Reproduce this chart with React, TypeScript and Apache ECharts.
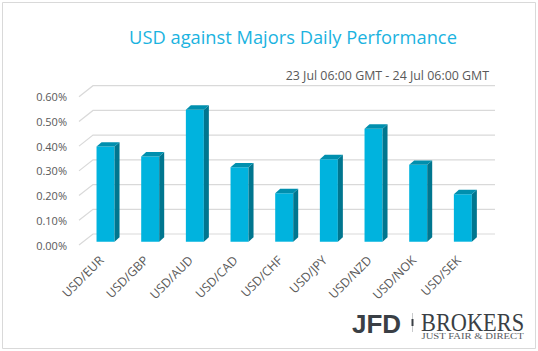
import React, { useEffect, useRef } from "react";
import * as echarts from "echarts";

const categories = ["USD/EUR", "USD/GBP", "USD/AUD", "USD/CAD", "USD/CHF", "USD/JPY", "USD/NZD", "USD/NOK", "USD/SEK"];
const values = [0.385, 0.345, 0.534, 0.301, 0.196, 0.334, 0.457, 0.311, 0.192];
const yTicks = [0, 0.1, 0.2, 0.3, 0.4, 0.5, 0.6];
const titleText = "USD against Majors Daily Performance";
const subtitleText = "23 Jul 06:00 GMT - 24 Jul 06:00 GMT";

const DX = 14; // depth offset of back wall
const DY = -11;
const FONT = "'Open Sans', 'Noto Sans', sans-serif";

export default function App() {
  const ref = useRef<HTMLDivElement>(null);
  useEffect(() => {
    const chart = echarts.init(ref.current!, null, { renderer: "svg" });
    const option: any = {
      animation: false,
      backgroundColor: "#ffffff",
      grid: { left: 79, right: 57, top: 96.7, bottom: 106, containLabel: false },
      xAxis: {
        type: "category",
        data: categories,
        axisLine: { show: false },
        axisTick: { show: false },
        axisLabel: { rotate: 45, margin: 13, color: "#595959", fontSize: 12.3, fontFamily: FONT, interval: 0 },
        splitLine: { show: false },
      },
      yAxis: {
        type: "value",
        min: 0,
        max: 0.6,
        interval: 0.1,
        axisLine: { show: false },
        axisTick: { show: false },
        splitLine: { show: false },
        axisLabel: { margin: 12, color: "#595959", fontSize: 11, fontFamily: FONT, formatter: (v: number) => v.toFixed(2) + "%" },
      },
      title: [
        { text: titleText, left: 288, top: 22, textAlign: "center", textStyle: { color: "#1BB3DF", fontSize: 18.3, fontWeight: "normal", fontFamily: FONT } },
        { text: subtitleText, right: 44, top: 64, textStyle: { color: "#595959", fontSize: 12.4, fontWeight: "normal", fontFamily: FONT } },
      ],
      series: [
        {
          type: "custom",
          name: "grid3d",
          silent: true,
          clip: false,
          data: yTicks.map((t) => [0, t]),
          encode: { x: 0, y: 1 },
          renderItem: (params: any, api: any) => {
            const v = api.value(1);
            const y = api.coord([0, v])[1];
            const cs = params.coordSys;
            const x0 = cs.x;
            const x1 = cs.x + cs.width;
            return {
              type: "polyline",
              shape: { points: [[x0, y], [x0 + DX, y + DY], [x1 + DX, y + DY]] },
              style: { stroke: "#D9D9D9", lineWidth: 1.2, fill: null },
            };
          },
          z: 1,
        },
        {
          type: "custom",
          name: "bars",
          clip: false,
          data: values.map((v, i) => [i, v]),
          encode: { x: 0, y: 1 },
          renderItem: (params: any, api: any) => {
            const i = api.value(0);
            const v = api.value(1);
            const top = api.coord([i, v]);
            const base = api.coord([i, 0]);
            const w = 18;
            const sdx = 5;
            const sdy = -4.4;
            const fx = top[0] + 4.2 - w / 2;
            const fy = top[1] - 3.3;
            const by = base[1] - 3.3;
            return {
              type: "group",
              children: [
                { type: "rect", shape: { x: fx, y: fy, width: w, height: by - fy }, style: { fill: "#00B3DE" } },
                {
                  type: "polygon",
                  shape: { points: [[fx + w, fy], [fx + w + sdx, fy + sdy], [fx + w + sdx, by + sdy], [fx + w, by]] },
                  style: { fill: "#00768F" },
                },
                {
                  type: "polygon",
                  shape: { points: [[fx, fy], [fx + sdx, fy + sdy], [fx + w + sdx, fy + sdy], [fx + w, fy]] },
                  style: { fill: "#008FAE" },
                },
              ],
            };
          },
          z: 2,
        },
      ],
      graphic: [
        { type: "rect", shape: { x: 2.5, y: 2.5, width: 533, height: 346 }, style: { fill: null, stroke: "#D9D9D9", lineWidth: 1 }, silent: true, z: -1 },
        { type: "text", x: 352, y: 311, style: { text: "JFD", fill: "#3A3F45", font: "bold 26px 'Liberation Sans', Arial, sans-serif" } },
        { type: "rect", shape: { x: 412, y: 313, width: 1, height: 19 }, style: { fill: "#C8CACC" } },
        { type: "rect", shape: { x: 411.5, y: 319, width: 2, height: 7 }, style: { fill: "#3A3F45" } },
        { type: "text", x: 421, y: 309, scaleX: 0.86, style: { text: "BROKERS", fill: "#3A3F45", font: "26px 'Liberation Serif', 'DejaVu Serif', serif" } },
        { type: "text", x: 421.5, y: 333, scaleX: 1.42, style: { text: "JUST FAIR & DIRECT", fill: "#555A60", font: "7.5px 'Liberation Serif', 'DejaVu Serif', serif" } },
      ],
    };
    chart.setOption(option);
    return () => chart.dispose();
  }, []);
  return <div ref={ref} style={{ width: 538, height: 351, position: "absolute", left: 0, top: 0 }} />;
}
